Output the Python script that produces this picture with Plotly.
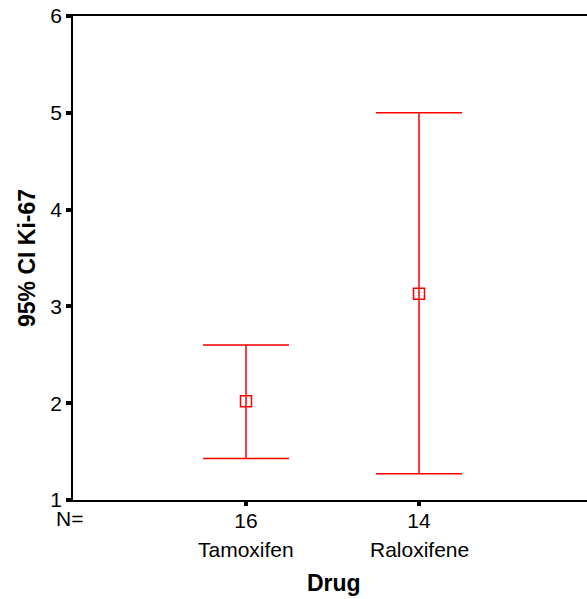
import plotly.graph_objects as go

drugs = ["Tamoxifen", "Raloxifene"]
n_values = [16, 14]
means = [2.02, 3.13]
upper = [2.60, 5.00]
lower = [1.43, 1.27]
y_ticks = [1, 2, 3, 4, 5, 6]

positions = list(range(1, len(drugs) + 1))
err_plus = [u - m for u, m in zip(upper, means)]
err_minus = [m - l for m, l in zip(means, lower)]

RED = "#ff0000"
FONT = "Liberation Sans, Arial, sans-serif"
FS = 21

fig = go.Figure()
fig.add_trace(go.Scatter(
    x=positions, y=means, mode="markers",
    marker=dict(symbol="square-open", size=11, color=RED, line=dict(width=1.5, color=RED)),
    error_y=dict(type="data", symmetric=False, array=err_plus, arrayminus=err_minus,
                 color=RED, thickness=1.5, width=43),
    showlegend=False, hoverinfo="skip",
))

annotations = []
for p, d in zip(positions, drugs):
    annotations.append(dict(x=p, y=-0.102, xref="x", yref="paper", text=d,
                            showarrow=False, xanchor="center", yanchor="middle",
                            font=dict(family=FONT, size=FS, color="black")))
annotations.append(dict(x=-0.006, y=-0.038, xref="paper", yref="paper", text="N=",
                        showarrow=False, xanchor="center", yanchor="middle",
                        font=dict(family=FONT, size=FS, color="black")))
annotations.append(dict(x=0.507, y=-0.1715, xref="paper", yref="paper", text="<b>Drug</b>",
                        showarrow=False, xanchor="center", yanchor="middle",
                        font=dict(family=FONT, size=23, color="black")))

fig.update_layout(
    width=587, height=599,
    margin=dict(l=73, r=0, t=16, b=99),
    paper_bgcolor="white", plot_bgcolor="white",
    font=dict(family=FONT, size=FS, color="black"),
    xaxis=dict(range=[0, 514 / 173], tickvals=positions, ticktext=[str(n) for n in n_values],
               showgrid=False, zeroline=False, showline=True, linecolor="black", linewidth=1.5,
               mirror=True, ticks="outside", ticklen=4, tickwidth=4, tickcolor="black",
               ticklabelstandoff=-3,
               tickfont=dict(family=FONT, size=FS, color="black")),
    yaxis=dict(range=[1, 6], tickvals=y_ticks, ticktext=[str(v) for v in y_ticks],
               showgrid=False, zeroline=False, showline=True, linecolor="black", linewidth=1.5,
               ticks="outside", ticklen=5, tickwidth=4, tickcolor="black",
               tickfont=dict(family=FONT, size=FS, color="black"),
               title=dict(text="<b>95% CI Ki-67</b>", font=dict(family=FONT, size=23, color="black"),
                          standoff=8)),
    annotations=annotations,
)

fig.write_html("out.html")
